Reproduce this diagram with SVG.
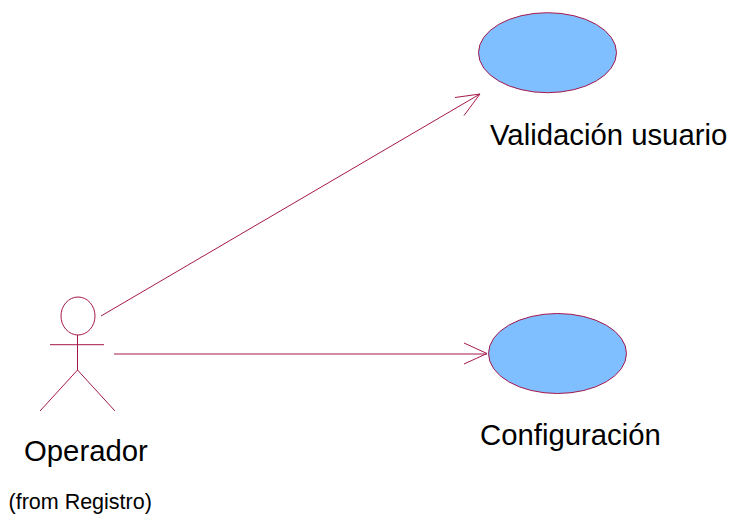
<svg xmlns="http://www.w3.org/2000/svg" width="731" height="516" viewBox="0 0 731 516">
<style>
.l{fill:none;stroke:#a5184c;stroke-width:1}
.u{fill:#80bfff;stroke:#a5184c;stroke-width:1}
text{font-family:"Liberation Sans",Arial,sans-serif;fill:#000}
.t{font-size:29.300px}
.s{font-size:21.500px}
</style>
<rect width="731" height="516" fill="#fff"/>
<g id="connectors">
<path class="l" d="M101 316L480 94M455 97.500L480 94L464 115.500"/>
<path class="l" d="M114 354H487M464 343L487 353.500L464 364"/>
</g>
<g id="usecase-validacion">
<ellipse class="u" cx="547.500" cy="52.700" rx="69" ry="40"/>
<text class="t" x="490" y="145">Validación usuario</text>
</g>
<g id="usecase-configuracion">
<ellipse class="u" cx="557.500" cy="353.500" rx="69" ry="40"/>
<text class="t" x="480" y="445">Configuración</text>
</g>
<g id="actor-operador">
<ellipse class="l" cx="78" cy="316" rx="17" ry="19"/>
<path class="l" d="M77.500 335V370M50 344.700H104M77.500 370L40 411M77.500 370L115 411"/>
<text class="t" x="24" y="461">Operador</text>
<text class="s" x="8.500" y="509">(from Registro)</text>
</g>
</svg>
